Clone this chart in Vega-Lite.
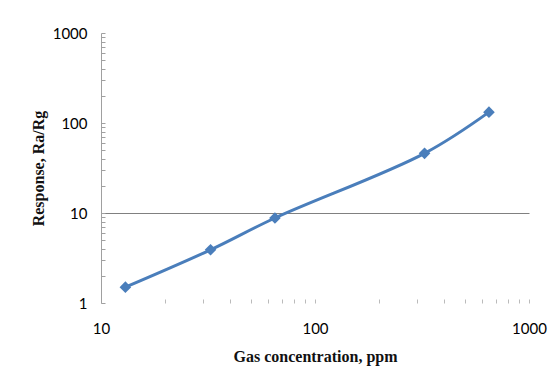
{
  "$schema": "https://vega.github.io/schema/vega-lite/v6.json",
  "autosize": "none",
  "width": 428,
  "height": 270,
  "padding": {"left": 101, "top": 33, "right": 29, "bottom": 85},
  "background": "white",
  "data": {
    "values": [
      {"ppm": 13, "response": 1.5},
      {"ppm": 32.5, "response": 3.9},
      {"ppm": 65, "response": 8.8},
      {"ppm": 325, "response": 46},
      {"ppm": 650, "response": 132}
    ]
  },
  "encoding": {
    "x": {
      "field": "ppm",
      "type": "quantitative",
      "scale": {"type": "log", "domain": [10, 1000], "nice": false},
      "axis": {
        "title": "Gas concentration, ppm",
        "values": [10, 20, 30, 40, 50, 60, 70, 80, 90, 100, 200, 300, 400, 500, 600, 700, 800, 900, 1000],
        "format": "d",
        "labelExpr": "indexof([10, 100, 1000], datum.value) >= 0 ? datum.label : ''",
        "labelFlush": false,
        "grid": false,
        "domain": false,
        "tickSize": -4,
        "tickColor": "#bbbbbb",
        "labelPadding": 22,
        "labelFont": "Lato",
        "labelFontSize": 15,
        "labelColor": "#000000",
        "titleFont": "Liberation Serif",
        "titleFontSize": 16,
        "titleFontWeight": "bold",
        "titleColor": "#111111",
        "titlePadding": 12
      }
    },
    "y": {
      "field": "response",
      "type": "quantitative",
      "scale": {"type": "log", "domain": [1, 1000], "nice": false},
      "axis": {
        "title": "Response, Ra/Rg",
        "values": [1, 2, 3, 4, 5, 6, 7, 8, 9, 10, 20, 30, 40, 50, 60, 70, 80, 90, 100, 200, 300, 400, 500, 600, 700, 800, 900, 1000],
        "format": "d",
        "labelExpr": "indexof([1, 10, 100, 1000], datum.value) >= 0 ? datum.label : ''",
        "labelFlush": false,
        "grid": true,
        "gridColor": "#808080",
        "gridWidth": 1,
        "gridOpacity": {"condition": {"test": "datum.value == 10", "value": 1}, "value": 0},
        "domain": true,
        "domainColor": "#a0a0a0",
        "domainWidth": 1,
        "tickSize": -4,
        "tickColor": "#a0a0a0",
        "labelPadding": 18,
        "labelFont": "Lato",
        "labelFontSize": 15,
        "labelColor": "#000000",
        "titleFont": "Liberation Serif",
        "titleFontSize": 16,
        "titleFontWeight": "bold",
        "titleColor": "#111111",
        "titlePadding": 6
      }
    }
  },
  "layer": [
    {
      "mark": {"type": "line", "interpolate": "catmull-rom", "color": "#4a7ebb", "strokeWidth": 3}
    },
    {
      "mark": {"type": "point", "shape": "diamond", "filled": true, "color": "#4a7ebb", "size": 135, "opacity": 1}
    }
  ],
  "config": {"view": {"stroke": null}}
}
